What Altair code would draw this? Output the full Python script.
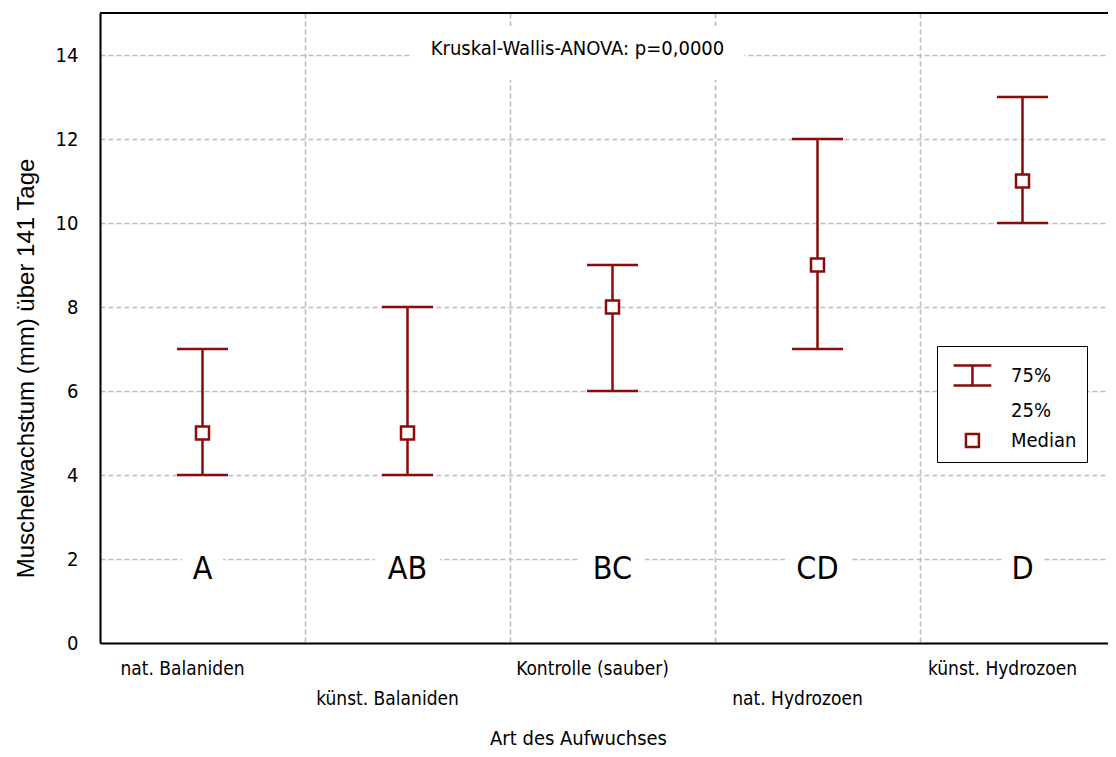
import altair as alt
import pandas as pd

categories = ["nat. Balaniden", "künst. Balaniden", "Kontrolle (sauber)",
              "nat. Hydrozoen", "künst. Hydrozoen"]
q25 = [4, 4, 6, 7, 10]
medians = [5, 5, 8, 9, 11]
q75 = [7, 8, 9, 12, 13]
letters = ["A", "AB", "BC", "CD", "D"]
y_ticks = [0, 2, 4, 6, 8, 10, 12, 14]
annotation = ["Kruskal-Wallis-ANOVA: p=0,0000"]
legend_items = ["75%", "25%", "Median"]

df = pd.DataFrame({"cat": categories, "q25": q25, "median": medians,
                   "q75": q75, "letter": letters})
ann_df = pd.DataFrame({"cat": [categories[2]], "text": annotation})
leg_df = pd.DataFrame({"item": legend_items})

RED = "#8B0A0A"
NARROW = "DejaVu Sans Condensed, Liberation Sans, sans-serif"
REG = "Liberation Sans, Arial, sans-serif"
GRID = "#bdbdbd"

x_axis = alt.Axis(
    bandPosition=0, grid=True, gridDash=[5, 3], gridColor=GRID, gridWidth=1.6,
    ticks=False, domainColor="black", domainWidth=2, labelAngle=0,
    labelOffset=-20, labelAlign="center", labelFont=NARROW, labelFontSize=19,
    labelColor="black", labelPadding=16, labelLineHeight=30,
    labelExpr="indexof(['künst. Balaniden','nat. Hydrozoen'], datum.value) >= 0 ? [' ', datum.label] : datum.label",
    title="Art des Aufwuchses", titleFont=NARROW, titleFontSize=20,
    titleFontWeight="normal", titleColor="black", titleX=478, titleY=95,
    titleBaseline="middle", titleAlign="center",
)
y_axis = alt.Axis(
    values=y_ticks, grid=True, gridDash=[5, 3], gridColor=GRID, gridWidth=1.6,
    ticks=False, domainColor="black", domainWidth=2, labelFont=NARROW,
    labelFontSize=20, labelColor="black", labelPadding=22,
    title="Muschelwachstum (mm) über 141 Tage", titleFont=REG, titleFontSize=24,
    titleFontWeight="normal", titleColor="black", titleX=-74, titleY=355,
    titleAngle=-90, titleBaseline="middle", titleAlign="center",
)

X = alt.X("cat:N", sort=categories,
          scale=alt.Scale(domain=categories, paddingInner=0, paddingOuter=0,
                          range=[0, 1025]),
          axis=x_axis)
yscale = alt.Scale(domain=[0, 15], nice=False, zero=True)

base = alt.Chart(df)

top_border = base.mark_rule(color="black", strokeWidth=2).encode(
    y=alt.Y(datum=15, scale=yscale))
whisker = base.mark_rule(color=RED, strokeWidth=2.5).encode(
    x=X, y=alt.Y("q25:Q", scale=yscale, axis=y_axis), y2="q75:Q")
cap_lo = base.mark_tick(color=RED, size=51, thickness=2.5, opacity=1).encode(
    x=X, y=alt.Y("q25:Q", scale=yscale))
cap_hi = base.mark_tick(color=RED, size=51, thickness=2.5, opacity=1).encode(
    x=X, y=alt.Y("q75:Q", scale=yscale))
med = base.mark_point(shape="square", size=169, filled=True, fill="white",
                      stroke=RED, strokeWidth=2.5, opacity=1).encode(
    x=X, y=alt.Y("median:Q", scale=yscale))

letter_box = base.transform_calculate(
    bs="pow(17 + 24 * length(datum.letter), 2)"
).mark_point(shape="M-1,-0.3H1V0.3H-1Z", filled=True, fill="white",
             strokeOpacity=0, opacity=1).encode(
    x=X, y=alt.Y(datum=2, scale=yscale),
    size=alt.Size("bs:Q", scale=None, legend=None))
letter_txt = base.mark_text(font=NARROW, fontSize=32, color="black", dy=10).encode(
    x=X, y=alt.Y(datum=2, scale=yscale), text="letter:N")

ann_box = alt.Chart(ann_df).mark_point(
    shape="M-2,-0.29H1.32V0.25H-2Z", size=40000, filled=True, fill="white",
    strokeOpacity=0, opacity=1).encode(
    x=X, y=alt.Y(datum=14, scale=yscale))
ann_txt = alt.Chart(ann_df).mark_text(font=NARROW, fontSize=20, color="black",
                                      dx=-35, dy=-6).encode(
    x=X, y=alt.Y(datum=14, scale=yscale), text="text:N")

ibeam = "M-0.72,-0.55H1.38M0.33,-0.55V0.55M-0.72,0.55H1.38"
empty = "M0,0L0,0"
sq = "M-0.03,-0.36H0.69V0.36H-0.03Z"

leg = alt.Chart(leg_df).mark_point(size=0, color=RED, strokeWidth=2.5).encode(
    shape=alt.Shape("item:N", scale=alt.Scale(domain=legend_items,
                                              range=[ibeam, empty, sq]),
                    legend=alt.Legend(
                        orient="none", legendX=837, legendY=333, title=None,
                        symbolSize=1296, symbolStrokeWidth=2.5,
                        symbolStrokeColor=RED, symbolOpacity=1,
                        labelFont=NARROW, labelFontSize=20, labelColor="black",
                        labelExpr="datum.label + '\u00a0\u00a0\u00a0\u00a0'",
                        labelOffset=25, rowPadding=0, padding=10,
                        strokeColor="black", fillColor="white")))

chart = alt.layer(top_border, whisker, cap_lo, cap_hi, letter_box, letter_txt,
                  ann_box, ann_txt, med, leg).properties(
    width=1008, height=630,
    autosize=alt.AutoSizeParams(type="none"),
    padding={"left": 92, "top": 5, "right": 0, "bottom": 106},
).configure_view(stroke=None).configure_legend(
    strokeWidth=2).configure(background="white")

chart.save("out.html", embed_options={"renderer": "svg", "actions": False})
